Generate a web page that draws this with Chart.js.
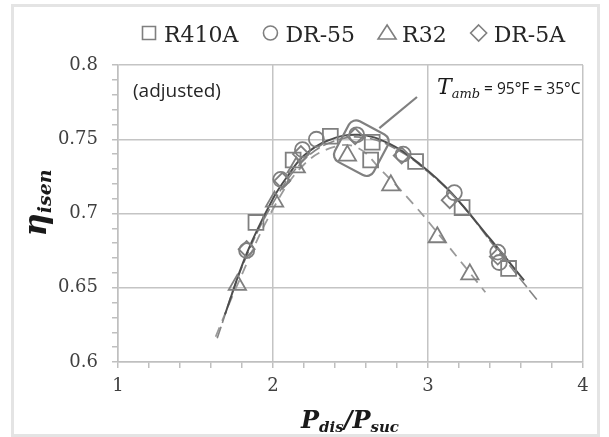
<!DOCTYPE html>
<html>
<head>
<meta charset="utf-8">
<script src="https://cdn.jsdelivr.net/npm/chart.js@4.4.1/dist/chart.umd.min.js"></script>
<style>
  html, body { margin: 0; padding: 0; background: #fff; }
</style>
</head>
<body>
<canvas id="grafico" width="609" height="437"></canvas>
<script>
  // Refrigerantes ensayados
  const refrigerantes = ['R410A', 'DR-55', 'R32', 'DR-5A'];

  // Eficiencia isentrópica medida vs. relación de presiones
  const r410aX = [1.89, 2.13, 2.37, 2.64, 2.63, 2.92, 3.22, 3.52];
  const r410aY = [0.694, 0.736, 0.752, 0.748, 0.736, 0.735, 0.704, 0.663];

  const dr55X = [1.83, 2.05, 2.19, 2.28, 2.54, 2.84, 3.17, 3.45, 3.46];
  const dr55Y = [0.675, 0.723, 0.743, 0.750, 0.753, 0.740, 0.714, 0.674, 0.667];

  const r32X = [1.77, 2.01, 2.15, 2.48, 2.76, 3.06, 3.27];
  const r32Y = [0.652, 0.708, 0.731, 0.739, 0.719, 0.684, 0.659];

  const dr5aX = [1.83, 2.06, 2.18, 2.53, 2.83, 3.14, 3.45];
  const dr5aY = [0.676, 0.722, 0.740, 0.752, 0.739, 0.709, 0.671];

  // Curvas de tendencia
  const tendenciaX = [1.69, 1.83, 2.0, 2.1, 2.2, 2.35, 2.55, 2.75, 2.95, 3.15, 3.4, 3.62];
  const tendenciaY = [0.632, 0.673, 0.710, 0.726, 0.739, 0.749, 0.753, 0.747, 0.733, 0.714, 0.683, 0.655];

  const tendencia2X = [1.64, 1.8, 2.0, 2.2, 2.4, 2.6, 2.8, 3.0, 3.2, 3.45, 3.71];
  const tendencia2Y = [0.616, 0.664, 0.707, 0.736, 0.749, 0.751, 0.743, 0.728, 0.708, 0.675, 0.641];

  const tendenciaR32X = [1.63, 1.77, 2.0, 2.2, 2.4, 2.55, 2.7, 2.9, 3.1, 3.37];
  const tendenciaR32Y = [0.617, 0.652, 0.703, 0.733, 0.745, 0.744, 0.729, 0.707, 0.682, 0.647];

  // Etiquetas de los ejes
  const ticksX = [1, 2, 3, 4];
  const ticksY = [0.6, 0.65, 0.7, 0.75, 0.8];

  const puntos = (xs, ys) => xs.map((x, i) => ({ x: x, y: ys[i] }));
  const gris = '#7f7f7f';
  const esTick = (lista, v) => lista.some(t => Math.abs(t - v) < 1e-6);

  const estiloMarca = (estilo, radio) => ({
      pointStyle: estilo,
      pointRadius: radio,
      pointHoverRadius: radio,
      pointBorderColor: gris,
      pointBackgroundColor: 'rgba(0,0,0,0)',
      pointBorderWidth: 1.8,
      showLine: false
  });

  const estiloCurva = (color, ancho, trazo) => ({
      showLine: true,
      pointRadius: 0,
      borderColor: color,
      borderWidth: ancho,
      borderDash: trazo,
      tension: 0.4,
      fill: false
  });

  const decoraciones = {
      id: 'decoraciones',
      beforeDraw(chart) {
          const c = chart.ctx;
          c.save();
          c.fillStyle = '#fff';
          c.fillRect(0, 0, chart.width, chart.height);
          c.strokeStyle = '#e4e4e4';
          c.lineWidth = 3;
          c.strokeRect(12.5, 5.5, 586, 430);
          c.restore();
      },
      afterDraw(chart) {
          const c = chart.ctx;
          const sx = chart.scales.x, sy = chart.scales.y;
          c.save();

          // Leyenda
          c.font = '22px "DejaVu Serif"';
          c.textBaseline = 'alphabetic';
          let lx = 142;
          const ly = 33;
          const marcas = ['rect', 'circle', 'triangle', 'rectRot'];
          refrigerantes.forEach((nombre, i) => {
              const cx = lx + 7;
              c.strokeStyle = gris;
              c.lineWidth = 1.6;
              c.beginPath();
              if (marcas[i] === 'rect') {
                  c.rect(cx - 6.5, ly - 6.5, 13, 13);
              } else if (marcas[i] === 'circle') {
                  c.arc(cx, ly, 7, 0, Math.PI * 2);
              } else if (marcas[i] === 'triangle') {
                  c.moveTo(cx, ly - 8);
                  c.lineTo(cx + 9, ly + 6);
                  c.lineTo(cx - 9, ly + 6);
                  c.closePath();
              } else {
                  c.moveTo(cx, ly - 8);
                  c.lineTo(cx + 8, ly);
                  c.lineTo(cx, ly + 8);
                  c.lineTo(cx - 8, ly);
                  c.closePath();
              }
              c.stroke();
              c.fillStyle = '#262626';
              c.fillText(nombre, lx + 22, 42);
              lx += 22 + c.measureText(nombre).width + 25;
          });

          // Título eje Y
          c.fillStyle = '#1a1a1a';
          c.translate(46, 203);
          c.rotate(-Math.PI / 2);
          c.font = 'italic bold 32px "DejaVu Serif"';
          const w1 = c.measureText('η').width;
          c.font = 'italic bold 19px "DejaVu Serif"';
          const w2 = c.measureText('isen').width;
          let x0 = -(w1 + w2) / 2;
          c.font = 'italic bold 32px "DejaVu Serif"';
          c.fillText('η', x0, 0);
          c.font = 'italic bold 19px "DejaVu Serif"';
          c.fillText('isen', x0 + w1, 5);
          c.setTransform(1, 0, 0, 1, 0, 0);

          // Título eje X
          const partes = [
              ['P', 'italic bold 24px "DejaVu Serif"', 0],
              ['dis', 'italic bold 15px "DejaVu Serif"', 4],
              ['/', 'italic bold 24px "DejaVu Serif"', 0],
              ['P', 'italic bold 24px "DejaVu Serif"', 0],
              ['suc', 'italic bold 15px "DejaVu Serif"', 4]
          ];
          let total = 0;
          partes.forEach(p => { c.font = p[1]; total += c.measureText(p[0]).width; });
          let px = 350 - total / 2;
          partes.forEach(p => {
              c.font = p[1];
              c.fillText(p[0], px, 428 + p[2]);
              px += c.measureText(p[0]).width;
          });

          // Nota
          c.fillStyle = '#262626';
          c.font = '19px "Open Sans"';
          c.fillText('(adjusted)', 133, 97);

          // Recuadro del punto de diseño
          const bx = sx.getPixelForValue(2.57), by = sy.getPixelForValue(0.744);
          c.strokeStyle = '#808080';
          c.lineWidth = 2.2;
          c.beginPath();
          c.moveTo(bx + 18, by - 20);
          c.lineTo(417, 97);
          c.stroke();
          c.save();
          c.translate(bx, by);
          c.rotate(28 * Math.PI / 180);
          c.beginPath();
          c.roundRect(-22, -23, 44, 46, 8);
          c.stroke();
          c.restore();

          c.fillStyle = '#1a1a1a';
          c.font = 'italic 22px "DejaVu Serif"';
          let tx = 437;
          c.fillText('T', tx, 94);
          tx += c.measureText('T').width;
          c.font = 'italic 13px "DejaVu Serif"';
          c.fillText('amb', tx, 98);
          tx += c.measureText('amb').width;
          c.font = '15.5px "Open Sans"';
          c.fillText(' = 95°F = 35°C', tx, 94);
          c.restore();
      }
  };

  const ctx = document.getElementById('grafico').getContext('2d');
  const grafico = new Chart(ctx, {
      type: 'scatter',
      data: {
          datasets: [
              { label: refrigerantes[0], data: puntos(r410aX, r410aY), ...estiloMarca('rect', 10.5) },
              { label: refrigerantes[1], data: puntos(dr55X, dr55Y), ...estiloMarca('circle', 7.5) },
              { label: refrigerantes[2], data: puntos(r32X, r32Y), ...estiloMarca('triangle', 10) },
              { label: refrigerantes[3], data: puntos(dr5aX, dr5aY), ...estiloMarca('rectRot', 8) },
              { label: 'ajuste', data: puntos(tendenciaX, tendenciaY), ...estiloCurva('#4d4d4d', 2, []) },
              { label: 'ajuste 2', data: puntos(tendencia2X, tendencia2Y), ...estiloCurva('#858585', 1.6, [12, 4]) },
              { label: 'ajuste R32', data: puntos(tendenciaR32X, tendenciaR32Y), ...estiloCurva('#9a9a9a', 1.8, [10, 7]) }
          ]
      },
      options: {
          responsive: false,
          animation: false,
          layout: { padding: { left: 0, right: 26, top: 65, bottom: 0 } },
          plugins: {
              legend: { display: false },
              tooltip: { enabled: false }
          },
          scales: {
              x: {
                  type: 'linear',
                  min: 1,
                  max: 4,
                  afterFit: (s) => { s.height = 75; },
                  border: { color: '#bfbfbf', width: 1.5 },
                  grid: {
                      color: (c) => c.tick && esTick(ticksX, c.tick.value) ? '#c4c4c4' : 'rgba(0,0,0,0)',
                      lineWidth: 1.5,
                      tickColor: '#bfbfbf',
                      tickLength: 6
                  },
                  ticks: {
                      stepSize: 0.2,
                      autoSkip: false,
                      maxRotation: 0,
                      padding: 8,
                      color: '#404040',
                      font: { family: 'DejaVu Serif', size: 18 },
                      callback: (v) => esTick(ticksX, v) ? String(Math.round(v)) : ''
                  }
              },
              y: {
                  min: 0.6,
                  max: 0.8,
                  afterFit: (s) => { s.width = 118; },
                  border: { color: '#bfbfbf', width: 1.5 },
                  grid: {
                      color: (c) => c.tick && esTick(ticksY, c.tick.value) ? '#c4c4c4' : 'rgba(0,0,0,0)',
                      lineWidth: 1.5,
                      tickColor: '#bfbfbf',
                      tickLength: 6
                  },
                  ticks: {
                      stepSize: 0.01,
                      autoSkip: false,
                      padding: 14,
                      color: '#404040',
                      font: { family: 'DejaVu Serif', size: 18 },
                      callback: (v) => esTick(ticksY, v) ? String(+v.toFixed(2)) : ''
                  }
              }
          }
      },
      plugins: [decoraciones]
  });
</script>
</body>
</html>
